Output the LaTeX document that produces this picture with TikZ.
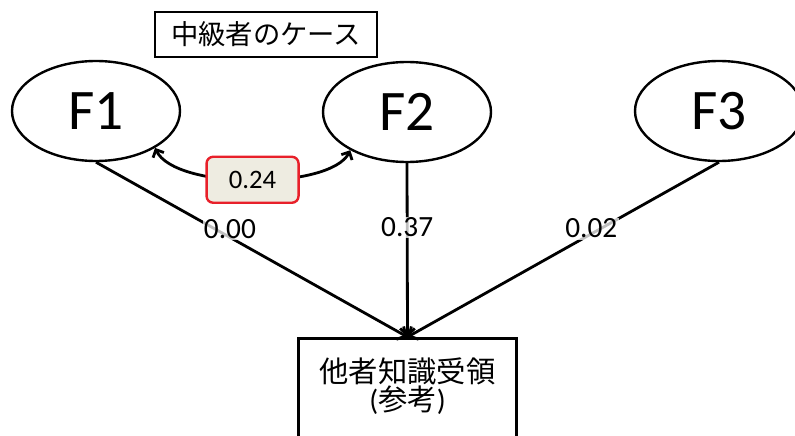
\documentclass[tikz,border=0pt]{standalone}
\usepackage{fontspec}
\setmainfont{Carlito}
\newfontfamily\jp{Noto Sans CJK JP}
\usetikzlibrary{arrows.meta,shapes.geometric}
\definecolor{boxred}{HTML}{E8202A}
\definecolor{boxfill}{HTML}{EEECE1}
\tikzset{
  factor/.style={draw, ellipse, line width=1.8pt, minimum width=126pt, minimum height=75pt, font=\fontsize{43}{43}\selectfont, inner sep=0pt},
  conn/.style={line width=2.1pt, -{Straight Barb[length=5pt,width=11pt]}},
  coefl/.style={fill=white, fill opacity=0.75, text opacity=1, inner sep=1pt, font=\fontsize{22}{22}\selectfont},
}
\begin{document}
\begin{tikzpicture}[x=0.75pt, y=-0.75pt]
\useasboundingbox (0,0) rectangle (795,435);
\node[factor] (F1) at (96,111) {F1};
\node[factor] (F2) at (407,112) {F2};
\node[factor] (F3) at (719,111) {F3};
\node[draw, line width=0.9pt, minimum width=166.5pt, minimum height=33.75pt, inner sep=0pt, font=\jp\fontsize{20.5}{20.5}\selectfont] (title) at (266,34.5) {中級者のケース};
\node[draw, line width=2.1pt, anchor=north, minimum width=164pt, minimum height=150pt] (out) at (407.5,337) {};
\node[align=center, anchor=north, font=\fontsize{22}{21.5}\selectfont, inner sep=0pt] (outtext) at (407.5,357) {{\jp 他者知識受領}\\({\jp 参考})};
\draw[line width=2.1pt, {Straight Barb[length=4.5pt,width=9pt]}-{Straight Barb[length=4.5pt,width=9pt]}]
  (F1.-32) .. controls (175,190) and (330,190) .. (F2.-146)
  node[pos=0.5, draw=boxred, fill=boxfill, line width=1.8pt, rounded corners=5pt, minimum width=69pt, minimum height=34.5pt, font=\fontsize{20}{20}\selectfont] (cov) {0.24};
\draw[conn] (F1.south) -- (out.north) node[coefl, pos=0.43, yshift=6.5pt] (l1) {0.00};
\draw[conn] (F2.south) -- (out.north) node[coefl, pos=0.37] (l2) {0.37};
\draw[conn] (F3.south) -- (out.north) node[coefl, pos=0.41, yshift=4pt] (l3) {0.02};
\end{tikzpicture}
\end{document}
